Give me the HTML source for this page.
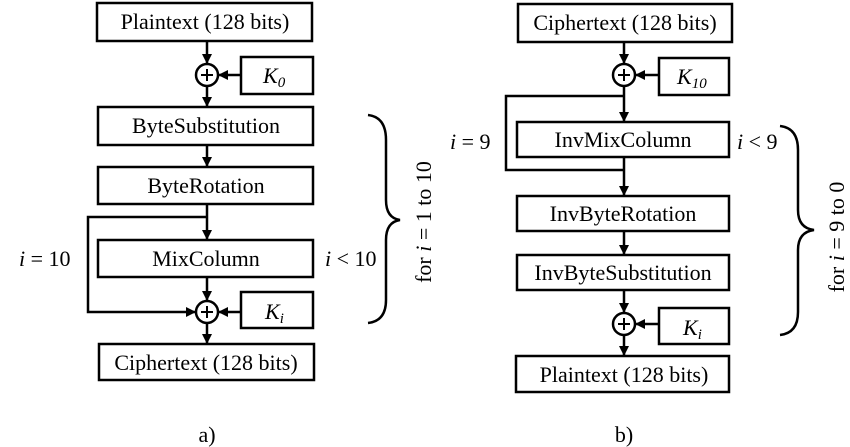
<!DOCTYPE html>
<html><head><meta charset="utf-8"><style>
html,body{margin:0;padding:0;background:#fff}
svg{display:block}
text{font-family:"Liberation Serif",serif;font-size:22px;fill:#000}
</style></head><body>
<svg width="850" height="447" viewBox="0 0 850 447" xmlns="http://www.w3.org/2000/svg">
<defs>
<marker id="a" markerWidth="10" markerHeight="10" refX="9" refY="5" orient="auto" markerUnits="userSpaceOnUse"><path d="M0,0 L10,5 L0,10 z" fill="#000"/></marker>
</defs>
<g fill="none" stroke="#000" stroke-width="2.5">
<rect x="97" y="3" width="215" height="38"/>
<rect x="241" y="57" width="72" height="37"/>
<rect x="98" y="107" width="215" height="38"/>
<rect x="98" y="167" width="215" height="37"/>
<rect x="98" y="240" width="215" height="37"/>
<rect x="241" y="292" width="72" height="36"/>
<rect x="99" y="344" width="215" height="36"/>
<circle cx="207" cy="75" r="11"/>
<circle cx="207" cy="312" r="11"/>
<path d="M207,41 V63" marker-end="url(#a)"/>
<path d="M207,86 V106" marker-end="url(#a)"/>
<path d="M241,75 H219" marker-end="url(#a)"/>
<path d="M207,145 V166" marker-end="url(#a)"/>
<path d="M207,204 V239" marker-end="url(#a)"/>
<path d="M207,217 H88 V312 H195" marker-end="url(#a)"/>
<path d="M207,277 V300" marker-end="url(#a)"/>
<path d="M241,312 H219" marker-end="url(#a)"/>
<path d="M207,323 V343" marker-end="url(#a)"/>
<path d="M368,115 Q386,117 386,140 V200 Q386,218 400,220 Q386,222 386,240 V300 Q386,321 368,323"/>
<rect x="518" y="4" width="214" height="38"/>
<rect x="659" y="58" width="70" height="37"/>
<rect x="517" y="122" width="212" height="35"/>
<rect x="517" y="196" width="212" height="35"/>
<rect x="517" y="255" width="212" height="35"/>
<rect x="659" y="308" width="70" height="36"/>
<rect x="516" y="356" width="213" height="36"/>
<circle cx="624" cy="75" r="11"/>
<circle cx="624" cy="324" r="11"/>
<path d="M624,42 V63" marker-end="url(#a)"/>
<path d="M659,75 H636" marker-end="url(#a)"/>
<path d="M624,86 V121" marker-end="url(#a)"/>
<path d="M624,96 H506 V170 H624"/>
<path d="M624,157 V195" marker-end="url(#a)"/>
<path d="M624,231 V254" marker-end="url(#a)"/>
<path d="M624,290 V312" marker-end="url(#a)"/>
<path d="M659,324 H636" marker-end="url(#a)"/>
<path d="M624,335 V355" marker-end="url(#a)"/>
<path d="M780,126 Q798,128 798,150 V210 Q798,228 814,230 Q798,232 798,250 V312 Q798,333 780,335"/>
</g>
<g stroke="#000" stroke-width="2">
<path d="M201,75 H213 M207,69 V81 M201,312 H213 M207,306 V318 M618,75 H630 M624,69 V81 M618,324 H630 M624,318 V330"/>
</g>
<g text-anchor="middle">
<text x="205" y="29">Plaintext (128 bits)</text>
<text x="206" y="133">ByteSubstitution</text>
<text x="206" y="193">ByteRotation</text>
<text x="206" y="266">MixColumn</text>
<text x="206" y="370">Ciphertext (128 bits)</text>
<text x="625" y="30">Ciphertext (128 bits)</text>
<text x="623" y="147">InvMixColumn</text>
<text x="623" y="221">InvByteRotation</text>
<text x="623" y="280">InvByteSubstitution</text>
<text x="624" y="382">Plaintext (128 bits)</text>
<text x="207" y="442">a)</text>
<text x="624" y="442">b)</text>
</g>
<text x="263" y="83" font-style="italic">K<tspan font-size="15" dy="4">0</tspan></text>
<text x="265" y="319" font-style="italic">K<tspan font-size="15" dy="4">i</tspan></text>
<text x="677" y="84" font-style="italic">K<tspan font-size="15" dy="4">10</tspan></text>
<text x="683" y="335" font-style="italic">K<tspan font-size="15" dy="4">i</tspan></text>
<text x="19" y="266"><tspan font-style="italic">i</tspan> = 10</text>
<text x="325" y="266"><tspan font-style="italic">i</tspan> &lt; 10</text>
<text x="450" y="149"><tspan font-style="italic">i</tspan> = 9</text>
<text x="737" y="149"><tspan font-style="italic">i</tspan> &lt; 9</text>
<text transform="translate(431,222) rotate(-90)" text-anchor="middle">for <tspan font-style="italic">i</tspan> = 1 to 10</text>
<text transform="translate(844,237) rotate(-90)" text-anchor="middle">for <tspan font-style="italic">i</tspan> = 9 to 0</text>
</svg>
</body></html>
